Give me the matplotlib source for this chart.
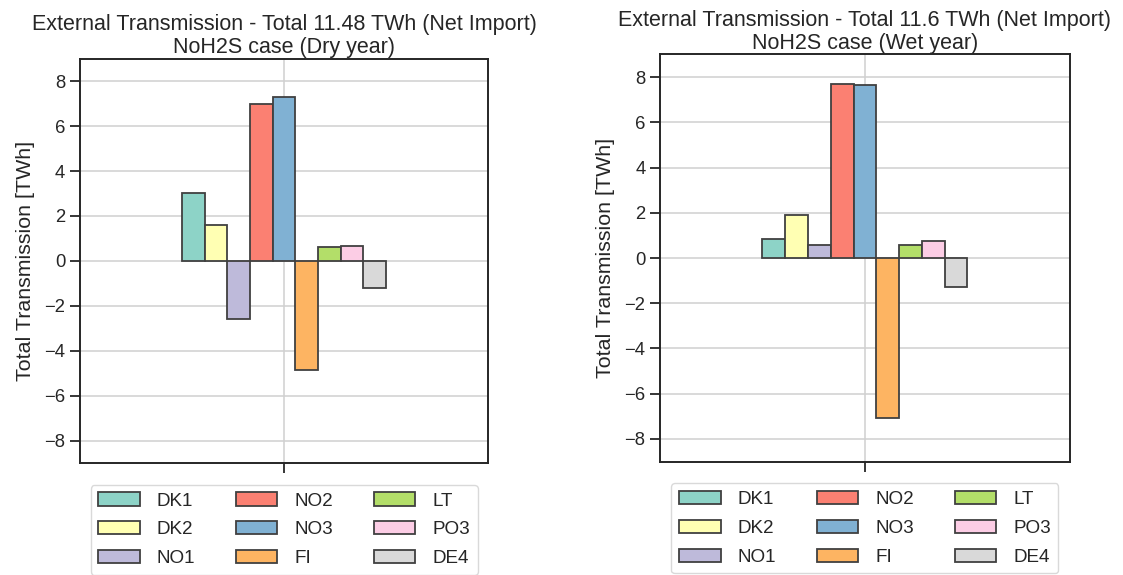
import matplotlib
matplotlib.use("Agg")
import matplotlib.pyplot as plt
import numpy as np
import seaborn as sns

zones = ["DK1", "DK2", "NO1", "NO2", "NO3", "FI", "LT", "PO3", "DE4"]
dry_year = [3.00, 1.58, -2.58, 6.97, 7.30, -4.85, 0.61, 0.66, -1.20]
wet_year = [0.86, 1.88, 0.58, 7.68, 7.64, -7.08, 0.59, 0.74, -1.28]
titles = [
    "External Transmission - Total 11.48 TWh (Net Import)\nNoH2S case (Dry year)",
    "External Transmission - Total 11.6 TWh (Net Import)\nNoH2S case (Wet year)",
]
yticks = [-8, -6, -4, -2, 0, 2, 4, 6, 8]


def draw_panel(ax, values, title):
    colors = sns.color_palette("Set3", len(zones))
    width = 0.5 / len(zones)
    offsets = (np.arange(len(zones)) - (len(zones) - 1) / 2) * width
    for off, val, name, col in zip(offsets, values, zones, colors):
        ax.bar(off, val, width=width, color=col, edgecolor="#404040",
               linewidth=1.3, label=name, zorder=3)
    ax.set_xlim(-0.5, 0.5)
    ax.set_ylim(-9, 9)
    ax.set_xticks([0])
    ax.set_xticklabels([""])
    ax.set_yticks(yticks)
    ax.set_ylabel("Total Transmission [TWh]", labelpad=7)
    ax.set_title(title, pad=4, linespacing=1.1)
    ax.grid(True, color="#d0d0d0", linewidth=1.1, zorder=0)
    ax.tick_params(length=7, width=1.3)
    for sp in ax.spines.values():
        sp.set_linewidth(1.4)
        sp.set_color("#262626")
    ax.legend(loc="upper center", bbox_to_anchor=(0.5, -0.03), ncol=3,
              handlelength=2.2, handletextpad=0.9, columnspacing=2.15,
              labelspacing=0.62, frameon=True, edgecolor="#d0d0d0",
              fancybox=True, borderpad=0.4)


def main() -> None:
    sns.set_theme(style="ticks")
    plt.rcParams["font.family"] = ["Liberation Sans", "DejaVu Sans"]
    plt.rcParams["font.size"] = 15
    plt.rcParams["axes.titlesize"] = 15.5
    plt.rcParams["axes.labelsize"] = 15.4
    plt.rcParams["xtick.labelsize"] = 13.3
    plt.rcParams["ytick.labelsize"] = 13.3
    plt.rcParams["legend.fontsize"] = 13.6

    fig = plt.figure(figsize=(11.23, 5.75), dpi=100)
    ax1 = fig.add_axes([0.0712, 0.1945, 0.3634, 0.7035])
    ax2 = fig.add_axes([0.5877, 0.1972, 0.3651, 0.7082])
    draw_panel(ax1, dry_year, titles[0])
    draw_panel(ax2, wet_year, titles[1])
    fig.savefig("out.png", dpi=100)


if __name__ == "__main__":
    main()
